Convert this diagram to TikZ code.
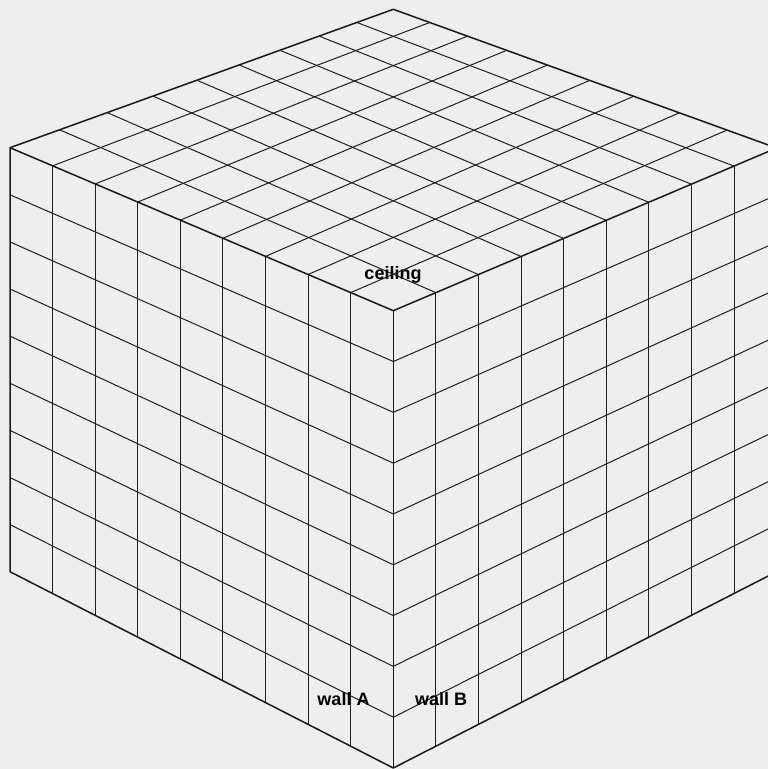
\documentclass[tikz,border=0pt]{standalone}
\usepackage{fontspec}
\setmainfont{Liberation Sans}
\usetikzlibrary{calc}
\definecolor{roomgray}{RGB}{238,238,238}

\begin{document}
\begin{tikzpicture}[
  x=1pt, y=-1pt,
  gridline/.style={black!88, line width=1pt},
  edgeline/.style={black!90, line width=1.5pt, line join=round},
  facelabel/.style={font=\fontsize{18}{20}\selectfont\bfseries, inner sep=0pt},
]

%% ── Canvas ───────────────────────────────────────────────────────────────────
\fill[roomgray] (0,0) rectangle (768,769);
\useasboundingbox (0,0) rectangle (768,769);

%% ── Corners of the room ──────────────────────────────────────────────────────
\coordinate (L)  at (10, 147.7);
\coordinate (T)  at (393.3, 9.3);
\coordinate (R)  at (776.6, 148);
\coordinate (F)  at (393.3, 310.7);
\coordinate (BL) at (10, 571.7);
\coordinate (B)  at (393.3, 768);
\coordinate (BR) at (776.6, 571.7);

%% ── Wall A grid ──────────────────────────────────────────────────────────────
\foreach \k in {1,...,8} {
  \draw[gridline] ($(L)!\k/9!(F)$) -- ($(BL)!\k/9!(B)$);
  \draw[gridline] ($(L)!\k/9!(BL)$) -- ($(F)!\k/9!(B)$);
}

%% ── Wall B grid ──────────────────────────────────────────────────────────────
\foreach \k in {1,...,8} {
  \draw[gridline] ($(F)!\k/9!(R)$) -- ($(B)!\k/9!(BR)$);
  \draw[gridline] ($(F)!\k/9!(B)$) -- ($(R)!\k/9!(BR)$);
}

%% ── Ceiling grid (back edges foreshortened) ──────────────────────────────────
\foreach \k in {1,...,8} {
  \pgfmathsetmacro{\p}{1.19*\k/9/(1+0.19*\k/9)}
  \draw[gridline] ($(L)!\p!(T)$) -- ($(F)!\k/9!(R)$);
  \draw[gridline] ($(R)!\p!(T)$) -- ($(F)!\k/9!(L)$);
}

%% ── Outline and corner edges ─────────────────────────────────────────────────
\draw[edgeline] (L) -- (T) -- (R) -- (BR) -- (B) -- (BL) -- cycle;
\draw[edgeline] (L) -- (F) -- (R);
\draw[edgeline] (F) -- (B);

%% ── Face labels ──────────────────────────────────────────────────────────────
\node[facelabel] (ceiling) at (393, 275.3) {ceiling};
\node[facelabel] (wallA)   at (343.5, 699.4) {wall A};
\node[facelabel] (wallB)   at (441.2, 699.4) {wall B};

\end{tikzpicture}
\end{document}
